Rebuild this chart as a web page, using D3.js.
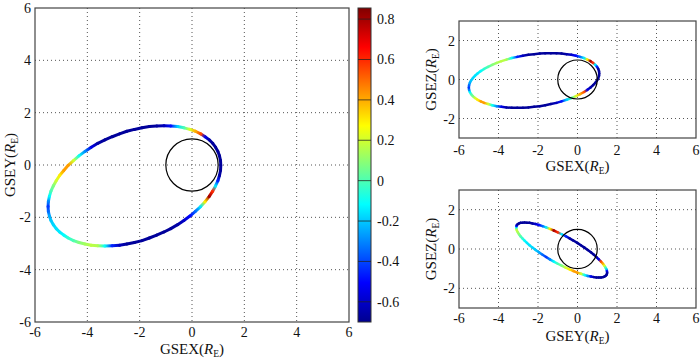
<!DOCTYPE html>
<html><head><meta charset="utf-8">
<script src="https://cdn.jsdelivr.net/npm/d3@7"></script>
<style>
body{margin:0;background:#fff}
svg{display:block}
text{font-family:'Liberation Serif','Times New Roman',serif;fill:#111}
</style>
</head><body>
<svg id="c" width="700" height="359"></svg>
<script>
// ---- data: spacecraft orbit (GSE, Earth radii) and the colour-coded value ----
const gseX=[1.10,1.09,1.05,0.99,0.90,0.79,0.66,0.50,
  0.33,0.13,-0.08,-0.31,-0.55,-0.81,-1.07,-1.35,
  -1.63,-1.91,-2.20,-2.49,-2.77,-3.05,-3.33,-3.60,
  -3.85,-4.09,-4.32,-4.53,-4.73,-4.90,-5.06,-5.19,
  -5.30,-5.39,-5.45,-5.49,-5.50,-5.49,-5.45,-5.39,
  -5.30,-5.19,-5.06,-4.90,-4.73,-4.53,-4.32,-4.09,
  -3.85,-3.60,-3.33,-3.05,-2.77,-2.49,-2.20,-1.91,
  -1.63,-1.35,-1.07,-0.81,-0.55,-0.31,-0.08,0.13,
  0.33,0.50,0.66,0.79,0.90,0.99,1.05,1.09];
const gseY=[-0.01,0.17,0.35,0.52,0.68,0.83,0.96,1.08,
  1.19,1.29,1.36,1.42,1.47,1.49,1.50,1.49,
  1.47,1.42,1.36,1.29,1.19,1.08,0.96,0.83,
  0.68,0.52,0.35,0.17,-0.01,-0.21,-0.40,-0.60,
  -0.80,-1.00,-1.20,-1.40,-1.59,-1.77,-1.95,-2.12,
  -2.28,-2.43,-2.56,-2.68,-2.79,-2.89,-2.96,-3.02,
  -3.07,-3.09,-3.10,-3.09,-3.07,-3.02,-2.96,-2.89,
  -2.79,-2.68,-2.56,-2.43,-2.28,-2.12,-1.95,-1.77,
  -1.59,-1.40,-1.20,-1.00,-0.80,-0.60,-0.40,-0.21];
const gseZ=[0.31,0.19,0.07,-0.05,-0.17,-0.29,-0.41,-0.53,
  -0.64,-0.75,-0.85,-0.95,-1.04,-1.12,-1.20,-1.26,
  -1.32,-1.37,-1.40,-1.43,-1.45,-1.45,-1.45,-1.43,
  -1.40,-1.37,-1.32,-1.26,-1.20,-1.12,-1.04,-0.95,
  -0.85,-0.75,-0.64,-0.53,-0.41,-0.29,-0.17,-0.05,
  0.07,0.19,0.31,0.43,0.54,0.65,0.75,0.85,
  0.94,1.02,1.10,1.16,1.22,1.27,1.30,1.33,
  1.34,1.35,1.34,1.33,1.30,1.27,1.22,1.16,
  1.10,1.02,0.94,0.85,0.75,0.65,0.54,0.43];
const value=[-0.68,-0.68,-0.68,-0.68,-0.68,-0.68,-0.66,-0.55,
  0.55,0.40,0.22,0.00,-0.18,-0.48,-0.62,-0.67,
  -0.68,-0.68,-0.68,-0.68,-0.68,-0.68,-0.68,-0.66,
  -0.55,-0.30,-0.10,0.20,0.42,0.42,0.30,0.20,
  0.08,0.00,-0.12,-0.30,-0.42,-0.35,-0.25,-0.20,
  -0.18,-0.16,-0.15,-0.12,-0.05,0.00,0.08,0.13,
  0.17,0.15,-0.10,-0.45,-0.62,-0.68,-0.68,-0.68,
  -0.68,-0.68,-0.68,-0.68,-0.66,-0.60,-0.50,-0.35,
  -0.15,0.30,0.80,0.60,-0.15,-0.45,-0.66,-0.68];
const axisTicks=[-6,-4,-2,0,2,4,6];
const gridTicks=[-4,-2,0,2,4];
const zTicks=[-2,0,2];
const cbTicks=[0.8,0.6,0.4,0.2,0,-0.2,-0.4,-0.6];
const cbDomain=[-0.70,0.855];
const earthRadius=1;

// ---- colour scale (jet) ----
const jetStops=[0,0.125,0.375,0.625,0.875,1];
const jetColors=["#00008f","#0000ff","#00ffff","#ffff00","#ff0000","#800000"];
const norm=d3.scaleLinear().domain(cbDomain).range([0,1]).clamp(true);
const jet=d3.scaleLinear().domain(jetStops).range(jetColors).interpolate(d3.interpolateRgb);
const color=v=>jet(norm(v));

const svg=d3.select('#c');
const defs=svg.append('defs');
let gid=0;

function label(g,x,y,main,rot){
  const t=g.append('text').attr('font-size','15px').attr('text-anchor','middle')
    .attr('transform',rot?`translate(${x},${y}) rotate(-90)`:`translate(${x},${y})`);
  t.append('tspan').text(main+'(');
  t.append('tspan').attr('font-style','italic').text('R');
  t.append('tspan').attr('font-size','9.5px').attr('dy','3').text('E');
  t.append('tspan').attr('dy','-3').text(')');
}

function panel(o){
  const g=svg.append('g');
  const xs=d3.scaleLinear().domain([-6,6]).range([o.left,o.right]);
  const ys=d3.scaleLinear().domain(o.yDom).range([o.bottom,o.top]);
  // grid
  g.selectAll('.gx').data(gridTicks).join('line')
    .attr('x1',d=>xs(d)).attr('x2',d=>xs(d)).attr('y1',o.top).attr('y2',o.bottom)
    .attr('stroke','#555').attr('stroke-width',1).attr('stroke-dasharray','1,3');
  g.selectAll('.gy').data(o.yGrid).join('line')
    .attr('y1',d=>ys(d)).attr('y2',d=>ys(d)).attr('x1',o.left).attr('x2',o.right)
    .attr('stroke','#555').attr('stroke-width',1).attr('stroke-dasharray','1,3');
  // orbit
  const A=o.a,B=o.b,n=A.length;
  for(let i=0;i<n;i++){
    const j=(i+1)%n;
    const x1=xs(A[i]),y1=ys(B[i]),x2=xs(A[j]),y2=ys(B[j]);
    const id='g'+(gid++);
    const lg=defs.append('linearGradient').attr('id',id).attr('gradientUnits','userSpaceOnUse')
      .attr('x1',x1).attr('y1',y1).attr('x2',x2).attr('y2',y2);
    lg.append('stop').attr('offset',0).attr('stop-color',color(value[i]));
    lg.append('stop').attr('offset',1).attr('stop-color',color(value[j]));
    g.append('line').attr('x1',x1).attr('y1',y1).attr('x2',x2).attr('y2',y2)
      .attr('stroke',`url(#${id})`).attr('stroke-width',o.lw).attr('stroke-linecap','round');
  }
  // Earth
  g.append('ellipse').attr('cx',xs(0)).attr('cy',ys(0))
    .attr('rx',xs(earthRadius)-xs(0)).attr('ry',ys(0)-ys(earthRadius))
    .attr('fill','none').attr('stroke','#000').attr('stroke-width',1.2);
  // frame
  g.append('rect').attr('x',o.left).attr('y',o.top).attr('width',o.right-o.left).attr('height',o.bottom-o.top)
    .attr('fill','none').attr('stroke','#444').attr('stroke-width',1.2);
  // tick labels
  g.selectAll('.tx').data(axisTicks).join('text').attr('font-size','14px').attr('text-anchor','middle')
    .attr('x',d=>xs(d)).attr('y',o.xTickY).text(d=>d);
  g.selectAll('.ty').data(o.yTicks).join('text').attr('font-size','14px').attr('text-anchor','end')
    .attr('x',o.left-4).attr('y',d=>ys(d)+5).text(d=>d);
  label(g,(o.left+o.right)/2,o.xLabY,o.xl,false);
  label(g,o.yLabX,(o.top+o.bottom)/2,o.yl,true);
}

panel({left:35,right:349,top:8,bottom:322,yDom:[-6,6],yGrid:gridTicks,yTicks:axisTicks,
  a:gseX,b:gseY,lw:3,xTickY:337,xLabY:354,yLabX:15,xl:'GSEX',yl:'GSEY'});
panel({left:459,right:696,top:21,bottom:138,yDom:[-3,3],yGrid:zTicks,yTicks:zTicks,
  a:gseX,b:gseZ,lw:2.5,xTickY:155,xLabY:171,yLabX:436,xl:'GSEX',yl:'GSEZ'});
panel({left:459,right:696,top:190,bottom:308,yDom:[-3,3],yGrid:zTicks,yTicks:zTicks,
  a:gseY,b:gseZ,lw:2.5,xTickY:323,xLabY:341,yLabX:436,xl:'GSEY',yl:'GSEZ'});

// ---- colour bar ----
const cb={x:358,w:13,top:8,bottom:322};
const cy=d3.scaleLinear().domain(cbDomain).range([cb.bottom,cb.top]);
const cg=defs.append('linearGradient').attr('id','cbg').attr('x1',0).attr('y1',1).attr('x2',0).attr('y2',0);
jetStops.forEach((s,k)=>cg.append('stop').attr('offset',s).attr('stop-color',jetColors[k]));
svg.append('rect').attr('x',cb.x).attr('y',cb.top).attr('width',cb.w).attr('height',cb.bottom-cb.top)
  .attr('fill','url(#cbg)').attr('stroke','#333').attr('stroke-width',1);
svg.selectAll('.cbt').data(cbTicks).join('line')
  .attr('x1',cb.x).attr('x2',cb.x+cb.w).attr('y1',d=>cy(d)).attr('y2',d=>cy(d))
  .attr('stroke','#222').attr('stroke-width',1).attr('opacity',0.75);
svg.selectAll('.cbl').data(cbTicks).join('text').attr('font-size','14px')
  .attr('x',cb.x+cb.w+6).attr('y',d=>cy(d)+5).text(d=>d);
</script>
</body></html>
